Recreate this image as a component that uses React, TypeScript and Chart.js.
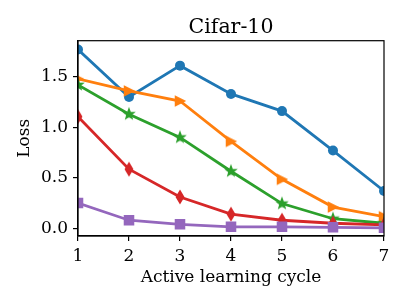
import React, { useEffect, useRef } from "react";
import { Chart, registerables } from "chart.js";

Chart.register(...registerables);

const CYCLES = [1, 2, 3, 4, 5, 6, 7];
const SERIES_BLUE = [1.77, 1.3, 1.61, 1.33, 1.16, 0.77, 0.37];
const SERIES_ORANGE = [1.48, 1.36, 1.26, 0.86, 0.485, 0.21, 0.115];
const SERIES_GREEN = [1.42, 1.13, 0.9, 0.565, 0.245, 0.095, 0.05];
const SERIES_RED = [1.105, 0.585, 0.31, 0.14, 0.08, 0.05, 0.035];
const SERIES_PURPLE = [0.25, 0.08, 0.04, 0.015, 0.015, 0.01, 0.005];
const Y_TICKS = [0, 0.5, 1.0, 1.5];
const TITLE = "Cifar-10";
const X_LABEL = "Active learning cycle";
const Y_LABEL = "Loss";

const FONT = "'DejaVu Serif', serif";

function makeMarker(kind: string, color: string): HTMLCanvasElement {
  const size = 16;
  const c = document.createElement("canvas");
  c.width = size;
  c.height = size;
  const ctx = c.getContext("2d")!;
  const cx = size / 2;
  const cy = size / 2;
  ctx.fillStyle = color;
  ctx.strokeStyle = color;
  ctx.lineWidth = 1.5;
  ctx.lineJoin = "miter";
  ctx.beginPath();
  if (kind === "tri") {
    ctx.moveTo(cx + 4.5, cy);
    ctx.lineTo(cx - 4.5, cy - 4.5);
    ctx.lineTo(cx - 4.5, cy + 4.5);
  } else if (kind === "diamond") {
    ctx.moveTo(cx, cy - 6);
    ctx.lineTo(cx + 3.6, cy);
    ctx.lineTo(cx, cy + 6);
    ctx.lineTo(cx - 3.6, cy);
  } else if (kind === "star") {
    const R = 5;
    const r = 2.1;
    for (let i = 0; i < 10; i++) {
      const a = -Math.PI / 2 + (i * Math.PI) / 5;
      const rad = i % 2 === 0 ? R : r;
      const px = cx + rad * Math.cos(a);
      const py = cy + rad * Math.sin(a);
      if (i === 0) ctx.moveTo(px, py);
      else ctx.lineTo(px, py);
    }
  }
  ctx.closePath();
  ctx.fill();
  ctx.stroke();
  return c;
}

export default function App() {
  const ref = useRef<HTMLCanvasElement | null>(null);

  useEffect(() => {
    if (!ref.current) return;
    const BLUE = "#1f77b4";
    const ORANGE = "#ff7f0e";
    const GREEN = "#2ca02c";
    const RED = "#d62728";
    const PURPLE = "#9467bd";

    const mk = (data: number[], color: string, style: any, radius: number, order: number, bw: number) => ({
      data: data.map((y, i) => ({ x: CYCLES[i], y })),
      borderColor: color,
      backgroundColor: color,
      borderWidth: 2.8,
      pointStyle: style,
      pointRadius: radius,
      pointBorderWidth: bw,
      pointBackgroundColor: color,
      pointBorderColor: color,
      tension: 0,
      order,
      clip: 0,
    });

    const framePlugin = {
      id: "frame",
      afterDatasetsDraw(chart: any) {
        const { ctx, chartArea } = chart;
        ctx.save();
        ctx.strokeStyle = "#000";
        ctx.lineWidth = 1.2;
        ctx.strokeRect(chartArea.left, chartArea.top, chartArea.right - chartArea.left, chartArea.bottom - chartArea.top);
        ctx.restore();
      },
    };

    const chart = new Chart(ref.current, {
      type: "line",
      data: {
        datasets: [
          mk(SERIES_BLUE, BLUE, "circle", 5, 4, 0),
          mk(SERIES_ORANGE, ORANGE, makeMarker("tri", ORANGE), 5, 3, 0),
          mk(SERIES_GREEN, GREEN, makeMarker("star", GREEN), 5, 2, 0),
          mk(SERIES_RED, RED, makeMarker("diamond", RED), 5, 1, 0),
          mk(SERIES_PURPLE, PURPLE, "rect", 6.4, 0, 1.5),
        ] as any,
      },
      options: {
        animation: false,
        responsive: false,
        maintainAspectRatio: false,
        layout: { padding: { left: 0, right: 23, top: 0, bottom: 0 } },
        plugins: {
          legend: { display: false },
          tooltip: { enabled: false },
          title: {
            display: true,
            fullSize: false,
            text: TITLE,
            color: "#000",
            font: { family: FONT, size: 20.5, weight: "normal" as any, lineHeight: 1.2 },
            padding: { top: 15.5, bottom: 0.6 },
          },
        },
        scales: {
          x: {
            type: "linear",
            min: 1,
            max: 7,
            ticks: {
              stepSize: 1,
              color: "#000",
              font: { family: FONT, size: 17 },
              padding: 5.5,
              maxRotation: 0,
            },
            grid: { display: true, drawOnChartArea: false, drawTicks: true, tickLength: 5, color: "#000", lineWidth: 1.2 },
            border: { display: true, color: "#000", width: 1.2 },
            title: {
              display: true,
              text: X_LABEL,
              color: "#000",
              font: { family: FONT, size: 17, lineHeight: 1.2 },
              padding: { top: 0, bottom: 17 },
            },
            afterFit(scale: any) {
              scale.height = 69;
            },
          },
          y: {
            type: "linear",
            min: -0.076,
            max: 1.857,
            afterBuildTicks(scale: any) {
              scale.ticks = Y_TICKS.map((v) => ({ value: v }));
            },
            ticks: {
              color: "#000",
              font: { family: FONT, size: 17 },
              padding: 5,
              callback: (v: any) => Number(v).toFixed(1),
            },
            grid: { display: true, drawOnChartArea: false, drawTicks: true, tickLength: 5, color: "#000", lineWidth: 1.2 },
            border: { display: true, color: "#000", width: 1.2 },
            title: {
              display: true,
              text: Y_LABEL,
              color: "#000",
              font: { family: FONT, size: 17, lineHeight: 1.2 },
              padding: { top: 14, bottom: 0 },
            },
            afterFit(scale: any) {
              scale.width = 78;
            },
          },
        },
      },
      plugins: [framePlugin],
    });
    return () => chart.destroy();
  }, []);

  return (
    <div style={{ position: "fixed", left: 0, top: 0, width: 407, height: 305, background: "#fff" }}>
      <canvas ref={ref} width={407} height={305} />
    </div>
  );
}
